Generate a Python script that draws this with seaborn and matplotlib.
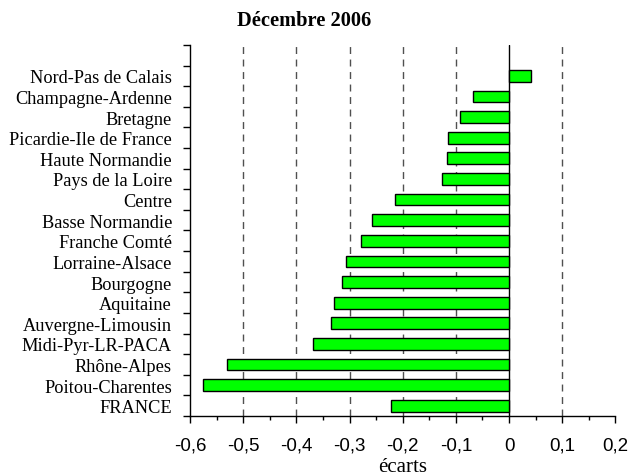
import numpy as np
import pandas as pd
import matplotlib
matplotlib.use('Agg')
import matplotlib.pyplot as plt
from matplotlib.ticker import FuncFormatter, MultipleLocator
import seaborn as sns

regions = ['Nord-Pas de Calais', 'Champagne-Ardenne', 'Bretagne',
           'Picardie-Ile de France', 'Haute Normandie', 'Pays de la Loire',
           'Centre', 'Basse Normandie', 'Franche Comté', 'Lorraine-Alsace',
           'Bourgogne', 'Aquitaine', 'Auvergne-Limousin', 'Midi-Pyr-LR-PACA',
           'Rhône-Alpes', 'Poitou-Charentes', 'FRANCE']
ecarts = [0.041, -0.067, -0.093, -0.114, -0.116, -0.127, -0.215, -0.258,
          -0.278, -0.306, -0.314, -0.330, -0.335, -0.368, -0.531, -0.575,
          -0.222]
grid_x = [-0.5, -0.4, -0.3, -0.2, -0.1, 0.1]

df = pd.DataFrame({'region': regions, 'ecart': ecarts})

sns.set_theme(style='white')
plt.rcParams['font.family'] = ['Liberation Serif', 'DejaVu Serif']

fig = plt.figure(figsize=(6.28, 4.77), dpi=100)
ax = fig.add_axes([0.3025, 0.1258, 0.6775, 0.7778])

for gx in grid_x:
    ax.axvline(gx, color='#505050', lw=1, ls=(0, (5, 4)), zorder=0)
ax.axvline(0, color='black', lw=1, zorder=0)

sns.barplot(data=df, x='ecart', y='region', orient='h', color='#00ff00',
            saturation=1, width=0.57, edgecolor='black', linewidth=1, ax=ax)
for p in ax.patches:
    p.set_zorder(3)

n = len(regions)
ax.set_ylim(n - 0.5, -1.5)
ax.set_xlim(-0.6, 0.2)

ax.xaxis.set_major_locator(MultipleLocator(0.1))
ax.xaxis.set_minor_locator(MultipleLocator(0.05))
ax.xaxis.set_major_formatter(FuncFormatter(
    lambda v, p: '0' if abs(v) < 1e-9 else ('%.1f' % v).replace('.', ',')))
ax.tick_params(axis='x', which='major', direction='out', length=5, width=1,
               bottom=True, colors='black', labelsize=13.5, pad=10)
ax.tick_params(axis='x', which='minor', direction='out', length=3, width=1,
               bottom=True, colors='black')
for lbl in ax.get_xticklabels():
    lbl.set_fontfamily(['Liberation Sans', 'DejaVu Sans'])

ax.set_yticks(np.arange(-1.5, n, 1.0), minor=True)
ax.tick_params(axis='y', which='minor', direction='out', length=5, width=1,
               left=True, color='black')
ax.tick_params(axis='y', which='major', length=0, labelsize=13.2, pad=13,
               labelcolor='black')

for side in ['top', 'right']:
    ax.spines[side].set_visible(False)
for side in ['left', 'bottom']:
    ax.spines[side].set_color('black')
    ax.spines[side].set_linewidth(1)

ax.set_ylabel('')
ax.set_xlabel('écarts', fontsize=15, color='black', labelpad=2)
fig.text(0.484, 0.955, 'Décembre 2006', ha='center', va='center',
         fontsize=14.7, fontweight='bold', color='black')

fig.savefig('out.png', dpi=100)
